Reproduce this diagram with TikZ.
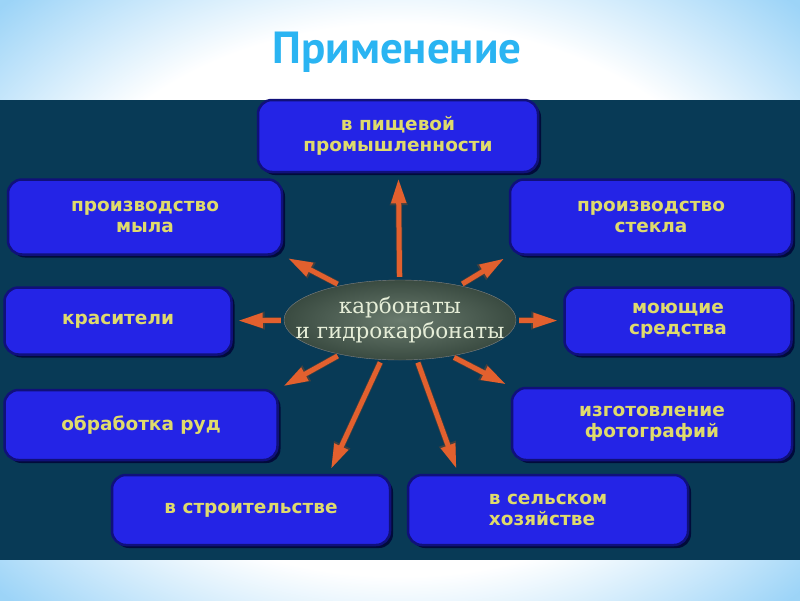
\documentclass[tikz,border=0pt]{standalone}
\usepackage{fontspec}
\setmainfont{DejaVu Sans}
\newfontfamily\boxfont{DejaVu Sans}
\newfontfamily\ovalfont{DejaVu Serif}
\newfontfamily\titlefont{PT Sans}
\usetikzlibrary{arrows.meta, shapes.geometric, shadows}

\definecolor{panelblue}{HTML}{083A56}
\definecolor{boxblue}{HTML}{2424E6}
\definecolor{boxedge}{HTML}{10107A}
\definecolor{boxtext}{HTML}{DFDB6C}
\definecolor{rayred}{HTML}{E2602E}
\definecolor{ovalin}{HTML}{6A7B6E}
\definecolor{ovalout}{HTML}{3A4B41}
\definecolor{ovaltext}{HTML}{E6EED8}
\definecolor{titleblue}{HTML}{2AB4F2}

% white in the middle, light blue towards the corners
\pgfdeclareradialshading{bgshade}{\pgfpoint{0bp}{0bp}}{rgb(0bp)=(1,1,1); rgb(23bp)=(1,1,1); rgb(35bp)=(0.61,0.83,0.97); rgb(40bp)=(0.61,0.83,0.97)}

\tikzset{
  usebox/.style={rectangle, rounded corners=14pt, draw=boxedge, line width=2.5pt,
    fill=boxblue, text=boxtext, inner sep=0pt, align=center,
    font=\boxfont\bfseries\fontsize{18.5}{21}\selectfont,
    drop shadow={shadow xshift=3pt, shadow yshift=-3pt, fill=black!80!blue, opacity=0.8}},
  ray/.style={draw=rayred, line width=5pt, -{Triangle[length=25pt,width=14pt]},
    shorten <=3pt, shorten >=5pt,
    preaction={draw=black!75, line width=6.5pt, -{Triangle[length=27pt,width=16pt]}}},
}

\begin{document}
\begin{tikzpicture}[x=1pt, y=-1pt]
    % background and panel
    \useasboundingbox (0,0) rectangle (800,600);
    \shade[shading=bgshade] (0,0) rectangle (800,600);
    \fill[panelblue] (0,100) rectangle (800,560);

    % title
    \node[font=\titlefont\bfseries\fontsize{45}{50}\selectfont, text=titleblue] (title) at (397,52) {Применение};

    % centre
    \node[ellipse, minimum width=232pt, minimum height=80pt, inner sep=0pt,
      inner color=ovalin, outer color=ovalout, draw=black!50,
      label={[align=center, text=ovaltext, font=\ovalfont\fontsize{21.5}{25}\selectfont]center:карбонаты\\и гидрокарбонаты}]
      (carb) at (400,320) {};

    % uses
    \node[usebox, minimum width=280pt, minimum height=72pt] (food) at (398,136) {в пищевой\\промышленности};
    \node[usebox, minimum width=274pt, minimum height=75pt] (soap) at (145,217) {производство\\мыла};
    \node[usebox, minimum width=282pt, minimum height=75pt] (glass) at (651,217) {производство\\стекла};
    \node[usebox, minimum width=227pt, minimum height=67pt] (dyes) at (118,321) {красители};
    \node[usebox, minimum width=227pt, minimum height=67pt] (deterg) at (678,321) {моющие\\средства};
    \node[usebox, minimum width=273pt, minimum height=70pt] (ores) at (141,425) {обработка руд};
    \node[usebox, minimum width=280pt, minimum height=72pt] (photo) at (652,424) {изготовление\\фотографий};
    \node[usebox, minimum width=278pt, minimum height=70pt] (build) at (251,510) {в строительстве};
    \node[usebox, minimum width=280pt, minimum height=70pt, align=left] (agri) at (548,510) {в сельском\\хозяйстве};

    % arrows
    \draw[ray] (carb) -- (food);
    \draw[ray] (carb.150) -- (soap.south east);
    \draw[ray] (carb.30) -- (glass.south west);
    \draw[ray] (carb) -- (dyes);
    \draw[ray] (carb) -- (deterg);
    \draw[ray] (carb.210) -- (ores.north east);
    \draw[ray] (carb.325) -- (photo.north west);
    \draw[ray] (carb.245) -- (build.25);
    \draw[ray] (carb.293) -- (agri.158);
\end{tikzpicture}
\end{document}
